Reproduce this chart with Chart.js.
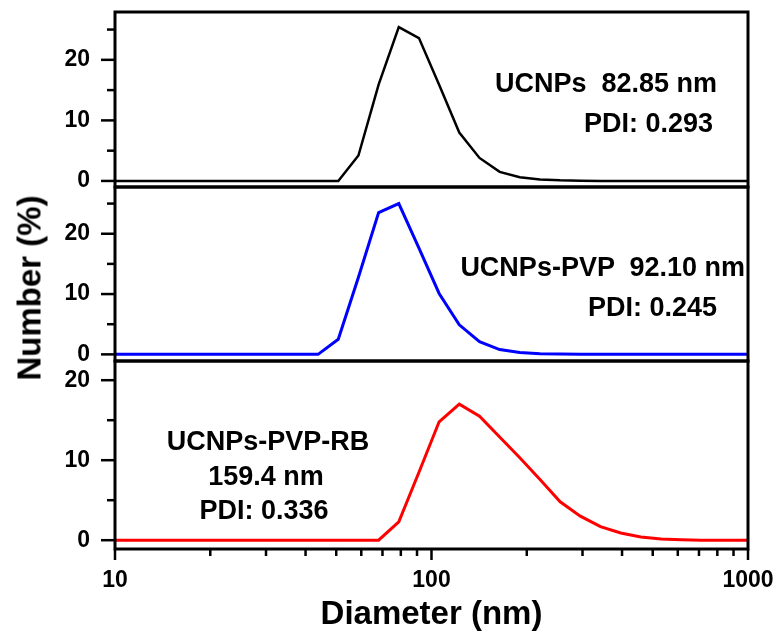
<!DOCTYPE html>
<html>
<head>
<meta charset="utf-8">
<title>DLS size distribution</title>
<script src="https://cdn.jsdelivr.net/npm/chart.js@4.4.1/dist/chart.umd.min.js"></script>
<style>
  body { margin: 0; background: #fff; }
  #wrap {
    position: relative; width: 780px; height: 637px;
    font-family: "Liberation Sans", Arial, sans-serif; font-weight: bold; color: #000;
  }
  #wrap canvas { position: absolute; left: 0; top: 0; }
  .note { position: absolute; font-size: 27px; line-height: 27px; white-space: pre; }
  #ytitle {
    position: absolute; left: 29px; top: 288px; font-size: 33px; line-height: 33px;
    white-space: nowrap; transform: translate(-50%, -50%) rotate(-90deg);
  }
</style>
</head>
<body>
<div id="wrap">
  <canvas id="c1" width="780" height="637"></canvas>
  <canvas id="c2" width="780" height="637"></canvas>
  <canvas id="c3" width="780" height="637"></canvas>
  <div id="ytitle">Number (%)</div>
  <div class="note" style="right:63px; top:70px;">UCNPs  82.85 nm</div>
  <div class="note" style="right:67px; top:110px;">PDI: 0.293</div>
  <div class="note" style="right:35px; top:254px;">UCNPs-PVP  92.10 nm</div>
  <div class="note" style="right:63px; top:294px;">PDI: 0.245</div>
  <div class="note" style="left:268px; top:428px; transform:translateX(-50%);">UCNPs-PVP-RB</div>
  <div class="note" style="left:266px; top:463px; transform:translateX(-50%);">159.4 nm</div>
  <div class="note" style="left:264px; top:497px; transform:translateX(-50%);">PDI: 0.336</div>
</div>
<script>
// size bins (nm)
const diameters = [8.721, 10.10, 11.70, 13.54, 15.69, 18.17, 21.04, 24.36, 28.21, 32.67,
  37.84, 43.82, 50.75, 58.77, 68.06, 78.82, 91.28, 105.7, 122.4, 141.8,
  164.2, 190.1, 220.2, 255.0, 295.3, 342.0, 396.1, 458.7, 531.2, 615.1,
  712.4, 825.0, 955.4, 1106];

// number distribution (%)
const ucnps = [0, 0, 0, 0, 0, 0, 0, 0, 0, 0,
  0, 0, 0, 4.2, 15.9, 25.4, 23.6, 15.9, 8.0, 3.8,
  1.5, 0.6, 0.25, 0.1, 0.05, 0, 0, 0, 0, 0,
  0, 0, 0, 0];
const ucnpsPvp = [0, 0, 0, 0, 0, 0, 0, 0, 0, 0,
  0, 0, 2.5, 12.8, 23.5, 25.0, 17.6, 10.1, 4.9, 2.1,
  0.8, 0.3, 0.1, 0.05, 0, 0, 0, 0, 0, 0,
  0, 0, 0, 0];
const ucnpsPvpRb = [0, 0, 0, 0, 0, 0, 0, 0, 0, 0,
  0, 0, 0, 0, 0, 2.3, 8.5, 14.8, 17.0, 15.5,
  12.9, 10.3, 7.6, 4.8, 3.0, 1.7, 0.9, 0.4, 0.15, 0.05,
  0, 0, 0, 0];

const xTickValues = [10, 20, 30, 40, 50, 60, 70, 80, 90, 100, 200, 300, 400, 500, 600, 700, 800, 900, 1000];
const xLabelValues = [10, 100, 1000];
const yTickValues = [0, 5, 10, 15, 20, 25];
const yLabelValues = [0, 10, 20];

const W = 780, H = 637, plotLeft = 115, plotRight = 748;
const tickFont = { family: '"Liberation Sans", Arial, sans-serif', size: 23, weight: 'bold' };

// frame + major/minor ticks
const framePlugin = {
  id: 'frame',
  afterDraw(chart, args, opts) {
    const { ctx, chartArea: a, scales } = chart;
    ctx.save();
    ctx.strokeStyle = '#000';
    ctx.lineCap = 'butt';
    ctx.lineWidth = 2.5;
    yTickValues.forEach(v => {
      if (v < scales.y.min || v > scales.y.max) return;
      const py = scales.y.getPixelForValue(v);
      const len = yLabelValues.includes(v) ? 14 : 8;
      ctx.beginPath(); ctx.moveTo(a.left - len, py); ctx.lineTo(a.left, py); ctx.stroke();
    });
    if (opts.xTicks) {
      xTickValues.forEach(v => {
        const px = scales.x.getPixelForValue(v);
        const len = xLabelValues.includes(v) ? 11 : 7;
        ctx.beginPath(); ctx.moveTo(px, a.bottom); ctx.lineTo(px, a.bottom + len); ctx.stroke();
      });
    }
    ctx.lineWidth = 3;
    ctx.strokeRect(a.left, a.top, a.right - a.left, a.bottom - a.top);
    ctx.restore();
  }
};

const noPad = s => { s.paddingTop = 0; s.paddingBottom = 0; s.paddingLeft = 0; s.paddingRight = 0; };

const panels = [
  { id: 'c1', values: ucnps, color: '#000000', width: 2.5, min: -1.0, max: 27.9, top: 12, bottom: 187, showX: false },
  { id: 'c2', values: ucnpsPvp, color: '#0000ff', width: 3, min: -1.1, max: 27.75, top: 187, bottom: 361, showX: false },
  { id: 'c3', values: ucnpsPvpRb, color: '#ff0000', width: 3, min: -1.1, max: 22.4, top: 361, bottom: 549, showX: true }
];

panels.forEach(p => {
  new Chart(document.getElementById(p.id), {
    type: 'line',
    data: {
      datasets: [{
        data: diameters.map((d, i) => ({ x: d, y: p.values[i] })),
        borderColor: p.color,
        borderWidth: p.width,
        pointRadius: 0,
        tension: 0,
        fill: false
      }]
    },
    options: {
      responsive: false,
      animation: false,
      events: [],
      layout: { padding: { left: 0, right: W - plotRight, top: p.top, bottom: p.showX ? 0 : H - p.bottom } },
      plugins: { legend: { display: false }, tooltip: { enabled: false }, frame: { xTicks: p.showX } },
      scales: {
        x: {
          type: 'logarithmic',
          min: 10, max: 1000,
          display: p.showX,
          afterBuildTicks: s => { s.ticks = xTickValues.map(v => ({ value: v })); },
          afterFit: s => { if (p.showX) { s.height = H - p.bottom; noPad(s); } },
          grid: { display: false, drawTicks: true, tickLength: 11 },
          border: { display: false },
          ticks: {
            autoSkip: false, maxRotation: 0, padding: 7, color: '#000', font: tickFont,
            callback: v => xLabelValues.includes(v) ? String(v) : ''
          },
          title: {
            display: true, text: 'Diameter (nm)', color: '#000',
            font: { family: '"Liberation Sans", Arial, sans-serif', size: 33, weight: 'bold' },
            padding: { top: 0, bottom: 2 }
          }
        },
        y: {
          min: p.min, max: p.max,
          afterBuildTicks: s => { s.ticks = yTickValues.filter(v => v <= s.max).map(v => ({ value: v })); },
          afterFit: s => { s.width = plotLeft; noPad(s); },
          grid: { display: false, drawTicks: true, tickLength: 14 },
          border: { display: false },
          ticks: {
            padding: 11, color: '#000', font: tickFont,
            callback: v => yLabelValues.includes(v) ? String(v) : ''
          }
        }
      }
    },
    plugins: [framePlugin]
  });
});
</script>
</body>
</html>
